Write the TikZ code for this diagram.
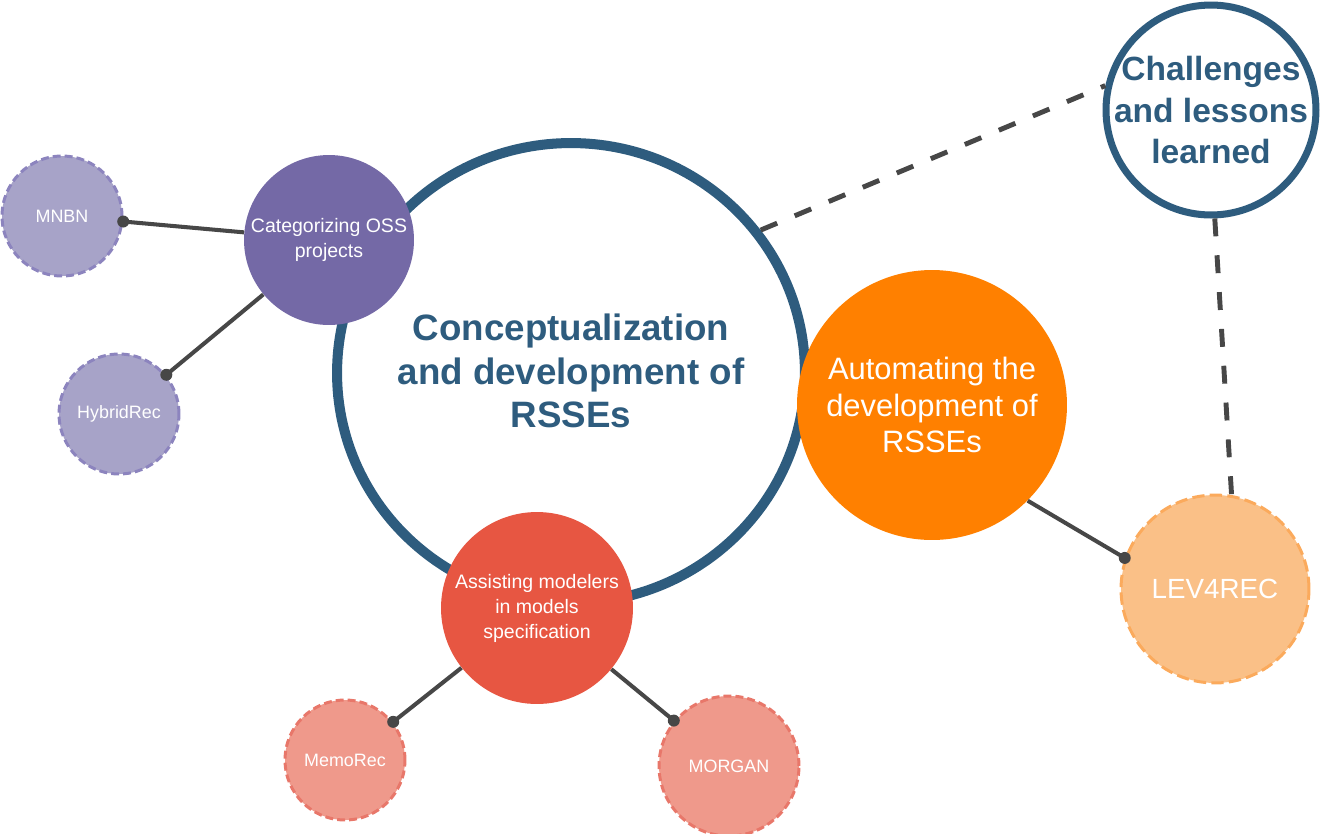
\documentclass[tikz,border=0pt]{standalone}
\usepackage{fontspec}
\setmainfont{Liberation Sans}
\usetikzlibrary{shapes.geometric}
\definecolor{blueC}{RGB}{46,92,126}
\definecolor{purpleC}{RGB}{116,105,166}
\definecolor{lpurple}{RGB}{167,163,200}
\definecolor{lpurpleB}{RGB}{140,132,190}
\definecolor{orangeC}{RGB}{255,128,0}
\definecolor{lorange}{RGB}{250,192,135}
\definecolor{lorangeB}{RGB}{251,170,92}
\definecolor{redC}{RGB}{231,86,66}
\definecolor{lred}{RGB}{239,153,139}
\definecolor{lredB}{RGB}{232,119,106}
\definecolor{linkgray}{RGB}{71,71,71}
\begin{document}
\begin{tikzpicture}[x=0.02cm,y=-0.02cm,
  bubble/.style={circle, inner sep=0pt, align=center, text=white},
  leaf/.style={bubble, minimum size=2.4cm, line width=1.7pt, dash pattern=on 4.5pt off 2.3pt, font=\fontsize{10.2}{12}\selectfont},
  link/.style={draw=linkgray, line width=2.3pt},
  dashlink/.style={draw=linkgray, line width=2.8pt, dash pattern=on 10.2pt off 10.8pt},
  enddot/.style={circle, fill=linkgray, inner sep=0pt, minimum size=0.24cm},
  bluetext/.style={align=center, text=blueC, inner sep=0pt}
]
\useasboundingbox (0,0) rectangle (1330,833);
% main
\node[ellipse, draw=blueC, line width=5.7pt, minimum width=9.36cm, minimum height=9.2cm, inner sep=0pt] (big) at (571,373) {};
\node[bluetext, font=\bfseries\fontsize{20.9}{24.9}\selectfont] (bigtext) at (571,371) {Conceptualization\\and development of\\RSSEs};
\node[circle, draw=blueC, line width=4pt, minimum size=4.2cm, inner sep=0pt] (chal) at (1211,110) {};
\node[bluetext, font=\bfseries\fontsize{19.1}{23.8}\selectfont] (chaltext) at (1211,110) {Challenges\\and lessons\\learned};
% topics
\node[bubble, fill=purpleC, minimum size=3.4cm, font=\fontsize{11.1}{14.2}\selectfont] (cat) at (329,240) {Categorizing OSS\\projects};
\node[bubble, fill=orangeC, minimum size=5.4cm, font=\fontsize{17.6}{21}\selectfont] (auto) at (932,405) {Automating the\\development of\\RSSEs};
\node[bubble, fill=redC, minimum size=3.84cm, font=\fontsize{11.1}{14.2}\selectfont] (assist) at (537,608) {Assisting modelers\\in models\\specification};
% leaves
\node[leaf, fill=lpurple, draw=lpurpleB] (mnbn) at (62,216) {MNBN};
\node[leaf, fill=lpurple, draw=lpurpleB] (hyb) at (119,414) {HybridRec};
\node[leaf, fill=lred, draw=lredB] (memo) at (345,760) {MemoRec};
\node[leaf, fill=lred, draw=lredB, minimum size=2.8cm] (morgan) at (729,766) {MORGAN};
\node[leaf, fill=lorange, draw=lorangeB, minimum size=3.76cm, dash pattern=on 7pt off 3pt, font=\fontsize{15.8}{18}\selectfont] (lev) at (1215,589) {LEV4REC};
% dashed links
\draw[dashlink] (big.37.5) -- (chal.167.4);
\draw[dashlink] (chal.272.8) -- (lev.80.5);
% connectors
\draw[link] (cat) -- (mnbn) node[enddot, pos=1] {};
\draw[link] (cat) -- (hyb) node[enddot, pos=1] {};
\draw[link] (assist) -- (memo) node[enddot, pos=1] {};
\draw[link] (assist) -- (morgan) node[enddot, pos=1] {};
\draw[link] (auto.315.3) -- (lev.161.6) node[enddot, pos=1] {};
\end{tikzpicture}
\end{document}
